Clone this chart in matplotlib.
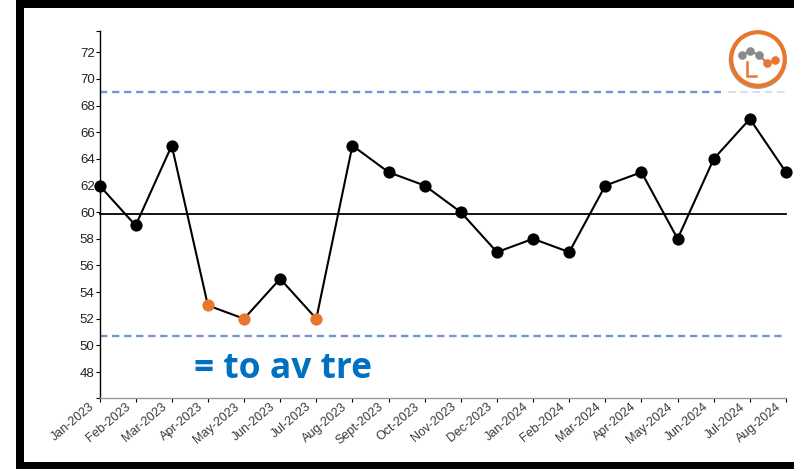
import matplotlib

matplotlib.use("Agg")
import matplotlib.pyplot as plt
from matplotlib.patches import Circle, Rectangle
from matplotlib.transforms import ScaledTranslation

WIDTH = 794
HEIGHT = 469

MONTHS = [
    "Jan-2023", "Feb-2023", "Mar-2023", "Apr-2023", "May-2023", "Jun-2023", "Jul-2023",
    "Aug-2023", "Sept-2023", "Oct-2023", "Nov-2023", "Dec-2023", "Jan-2024", "Feb-2024",
    "Mar-2024", "Apr-2024", "May-2024", "Jun-2024", "Jul-2024", "Aug-2024",
]
VALUES = [62, 59, 65, 53, 52, 55, 52, 65, 63, 62, 60, 57, 58, 57, 62, 63, 58, 64, 67, 63]
LOW_RUN = [3, 4, 6]
MEAN = 59.85
UPPER = 69.0
LOWER = 50.7
Y_TICKS = [48, 50, 52, 54, 56, 58, 60, 62, 64, 66, 68, 70, 72]
Y_MIN = 46.05
Y_MAX = 73.6

BLUE_DASH = "#7396d2"
ORANGE = "#e8762c"
GREY = "#8a8a8a"
DASHES = (3.1, 2.0)

plt.rcParams["font.family"] = ["Liberation Sans", "DejaVu Sans"]

fig = plt.figure(figsize=(WIDTH / 100, HEIGHT / 100), dpi=100, facecolor="white")

# overlay in pixel coordinates for the frame and the badge
overlay = fig.add_axes([0, 0, 1, 1], zorder=5)
overlay.set_xlim(0, WIDTH)
overlay.set_ylim(HEIGHT, 0)
overlay.axis("off")
overlay.patch.set_alpha(0)

overlay.add_patch(Rectangle((16, 0), 8, HEIGHT, color="black", lw=0))
overlay.add_patch(Rectangle((16, 0), WIDTH - 16, 8, color="black", lw=0))
overlay.add_patch(Rectangle((16, 462), WIDTH - 16, 7, color="black", lw=0))

# badge
overlay.add_patch(Circle((757.7, 60), 29, fc="#a8a8a8", ec="none"))
overlay.add_patch(Circle((758, 59), 26.8, fc="white", ec=ORANGE, lw=3.0))
overlay.plot([742, 750, 759, 767], [55, 51, 55, 63], color=GREY, lw=1.5)
overlay.plot([767, 775], [63, 60.5], color=ORANGE, lw=1.5)
overlay.plot([742, 750, 759], [55, 51, 55], "o", color=GREY, ms=6.2, mew=0)
overlay.plot([767, 775], [63, 60.5], "o", color=ORANGE, ms=6.2, mew=0)
overlay.plot([746.5, 746.5, 756], [62, 76, 76], color=ORANGE, lw=1.8, solid_joinstyle="miter")

left = 99.5 / WIDTH
right = 786 / WIDTH
top = 1 - 31 / HEIGHT
bottom = 1 - 398 / HEIGHT
ax = fig.add_axes([left, bottom, right - left, top - bottom])

x_values = list(range(len(VALUES)))
ax.set_xlim(0, len(VALUES) - 1)
ax.set_ylim(Y_MIN, Y_MAX)

ax.plot([0, x_values[-1]], [MEAN, MEAN], color="black", lw=1.3, clip_on=False, zorder=2)
ax.plot([0, 17.2], [UPPER, UPPER], color=BLUE_DASH, lw=1.7, dashes=DASHES, zorder=2)
ax.plot([17.4, x_values[-1]], [UPPER, UPPER], color="#c9d6ee", lw=1.1, dashes=(5, 3), zorder=2)
ax.plot([0, x_values[-1]], [LOWER, LOWER], color=BLUE_DASH, lw=1.7, dashes=DASHES, clip_on=False, zorder=2)

ax.plot(x_values, VALUES, color="black", lw=1.5, clip_on=False, zorder=3)
normal = [i for i in x_values if i not in LOW_RUN]
ax.plot(
    normal, [VALUES[i] for i in normal],
    linestyle="none", marker="o", color="black", ms=8.8, mew=0, clip_on=False, zorder=4,
)
ax.plot(
    LOW_RUN, [VALUES[i] for i in LOW_RUN],
    linestyle="none", marker="o", color=ORANGE, ms=8.8, mew=0, clip_on=False, zorder=4,
)

ax.spines["top"].set_visible(False)
ax.spines["right"].set_visible(False)
ax.spines["left"].set_linewidth(1.0)
ax.spines["bottom"].set_color("#9a9a9a")
ax.spines["bottom"].set_linewidth(1.0)

ax.set_yticks([Y_MIN] + Y_TICKS + [Y_MAX])
ax.set_yticklabels([""] + [str(v) for v in Y_TICKS] + [""])
ax.set_xticks(x_values)
ax.set_xticklabels(MONTHS, rotation=40, ha="right", rotation_mode="anchor")
ax.tick_params(axis="y", length=3, width=0.8, pad=0.5, labelsize=9.5, labelcolor="#222222")
ax.tick_params(axis="x", length=3, width=0.8, pad=1, labelsize=9, labelcolor="#3a3a3a")

# pull the slanted month labels left of their ticks
shift = ScaledTranslation(-7.5 / 72, 2 / 72, fig.dpi_scale_trans)
for label in ax.get_xticklabels():
    label.set_transform(label.get_transform() + shift)

ax.text(
    283, 369, "= to av tre", transform=overlay.transData, ha="center", va="center",
    fontsize=25.5, fontweight="bold", color="#0070c0", family=["Open Sans", "DejaVu Sans"],
)

fig.savefig("out.png", dpi=100)
